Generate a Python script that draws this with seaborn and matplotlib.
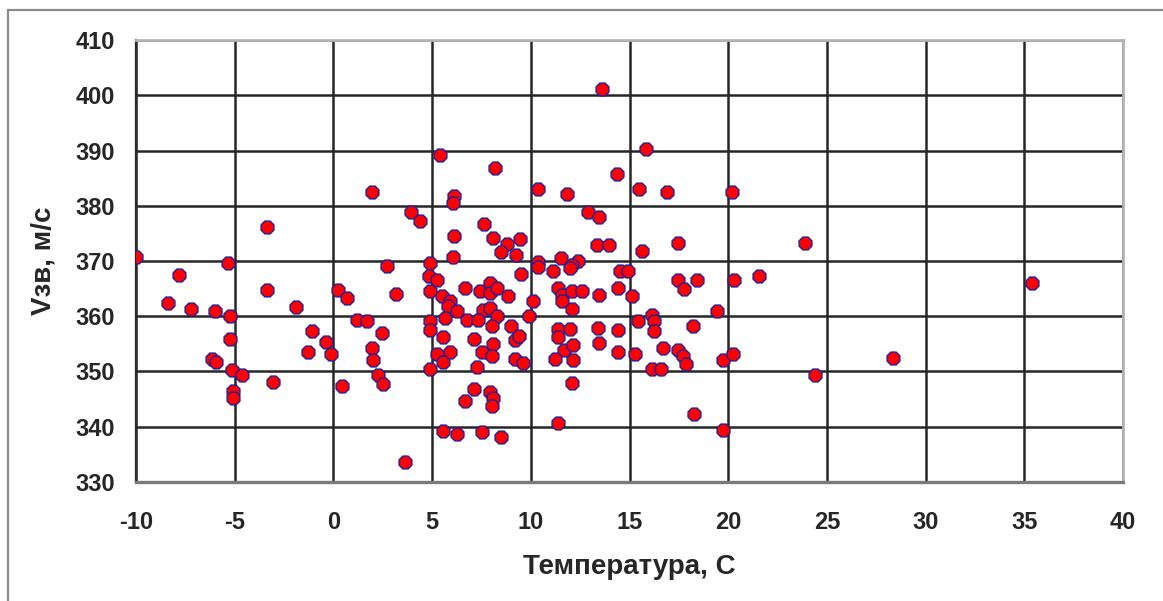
import matplotlib
matplotlib.use("Agg")
import matplotlib.pyplot as plt
import seaborn as sns
import pandas as pd
from matplotlib.lines import Line2D

# ---- data ----
temperature = [
    -10.0, -8.36, -7.82, -7.23, -6.17, -6.0, -5.96, -5.36, -5.24, -5.24,
    -5.15, -5.07, -5.07, -4.65, -3.38, -3.35, -3.07, -1.91, -1.1, -1.27,
    -0.39, -0.14, 0.23, 0.70, 0.44, 1.18, 1.68, 2.45, 1.94, 2.02,
    2.24, 2.5, 2.7, 3.17, 3.63, 1.97, 3.93, 4.39,
    5.4, 8.19, 6.13, 6.04, 10.38, 11.85, 13.6, 6.13, 7.64, 8.1,
    8.77, 9.45, 8.49, 9.24, 6.04, 4.89, 10.38, 10.38, 11.51, 12.41,
    12.1, 11.98, 11.12, 12.91, 13.45, 13.36, 13.98, 9.5, 15.86, 14.35,
    15.48, 16.88, 20.2, 15.62, 17.47, 14.52, 14.94, 17.47, 18.4, 20.28,
    21.54, 23.9, 35.37, 28.36, 24.4, 17.78, 11.37, 11.6, 11.6, 12.07,
    12.58, 12.07, 13.45, 14.43, 15.11, 19.45, 15.45, 16.16, 16.26, 16.26,
    18.2, 11.39, 11.99, 11.39, 13.42, 13.47, 14.43, 11.68, 12.15, 11.22,
    12.15, 14.43, 15.28, 16.71, 17.47, 17.73, 17.86, 16.16, 16.58, 19.72,
    20.23, 12.07, 18.29, 11.39, 19.72,
    4.86, 5.27, 4.89, 5.48, 5.9, 5.82, 6.24, 6.67, 7.43, 7.93,
    7.93, 8.27, 8.86, 7.59, 7.93, 8.27, 5.65, 6.75, 7.34, 8.01,
    9.02, 10.09, 9.91, 4.89, 4.89, 5.54, 7.14, 9.2, 9.4, 8.1,
    5.9, 5.23, 5.57, 7.51, 8.01, 9.2, 9.59, 4.89, 7.26, 7.14,
    6.67, 7.93, 8.1, 8.01, 5.54, 6.28, 7.54, 8.47,
]
speed = [
    370.8, 362.4, 367.4, 361.3, 352.3, 361.0, 351.7, 369.7, 360.0, 355.9,
    350.2, 346.4, 345.2, 349.4, 376.2, 364.8, 348.1, 361.7, 357.3, 353.5,
    355.3, 353.2, 364.8, 363.3, 347.4, 359.4, 359.1, 357.0, 354.2, 352.1,
    349.4, 347.7, 369.1, 364.0, 333.6, 382.4, 378.8, 377.3,
    389.1, 386.8, 381.8, 380.5, 383.1, 382.1, 401.1, 374.6, 376.7, 374.2,
    373.1, 374.0, 371.7, 371.1, 370.8, 369.6, 369.9, 369.0, 370.5, 370.0,
    369.3, 368.7, 368.2, 378.8, 378.0, 372.9, 372.9, 367.6, 390.2, 385.8,
    383.1, 382.4, 382.4, 371.9, 373.2, 368.2, 368.2, 366.6, 366.6, 366.6,
    367.2, 373.2, 366.0, 352.4, 349.4, 364.9, 365.1, 363.9, 362.7, 364.5,
    364.5, 361.3, 363.8, 365.1, 363.7, 361.0, 359.1, 360.3, 359.1, 357.3,
    358.2, 357.7, 357.7, 356.2, 357.9, 355.2, 357.6, 353.9, 354.8, 352.3,
    352.1, 353.5, 353.2, 354.2, 353.9, 352.8, 351.4, 350.5, 350.5, 352.1,
    353.2, 348.0, 342.3, 340.7, 339.5,
    367.3, 366.6, 364.5, 363.6, 362.7, 361.8, 360.9, 365.1, 364.5, 366.0,
    364.2, 365.1, 363.6, 361.2, 361.5, 360.0, 359.7, 359.4, 359.3, 358.2,
    358.3, 362.7, 360.0, 359.2, 357.6, 356.2, 355.9, 355.7, 356.4, 354.9,
    353.6, 353.2, 351.8, 353.6, 352.8, 352.3, 351.5, 350.5, 350.8, 346.8,
    344.7, 346.2, 345.2, 343.7, 339.3, 338.6, 339.0, 338.2,
]
x_ticks = [-10, -5, 0, 5, 10, 15, 20, 25, 30, 35, 40]
y_ticks = [330, 340, 350, 360, 370, 380, 390, 400, 410]
x_label = "Температура, С"
y_label = "Vзв, м/с"

df = pd.DataFrame({"t": temperature, "v": speed})

sns.set_style("white")
plt.rcParams["font.family"] = ["Liberation Sans", "DejaVu Sans"]
plt.rcParams["font.weight"] = "bold"

W, H = 1163, 601
fig = plt.figure(figsize=(W / 100, H / 100), dpi=100)
fig.patch.set_facecolor("white")
ax = fig.add_axes([136 / W, 1 - 482 / H, (1123 - 136) / W, (482 - 40) / H])

# outer chart border (only top and left visible)
fig.add_artist(Line2D([8 / W, 1.0], [1 - 10 / H, 1 - 10 / H], transform=fig.transFigure,
                      color="#8a8a8a", lw=1.6))
fig.add_artist(Line2D([8 / W, 8 / W], [1 - 10 / H, 0.0], transform=fig.transFigure,
                      color="#8a8a8a", lw=1.6))

ax.set_axisbelow(True)
ax.grid(True, color="#262626", lw=1.8)
sns.scatterplot(data=df, x="t", y="v", ax=ax, marker="8", s=100,
                color="#ff0000", edgecolor="#20209a", linewidth=1.0, zorder=3,
                legend=False)

ax.set_xlim(-10, 40)
ax.set_ylim(330, 410)
ax.set_xticks(x_ticks)
ax.set_yticks(y_ticks)
ax.set_xticklabels([str(v) for v in x_ticks])
ax.set_yticklabels([str(v) for v in y_ticks])

ax.tick_params(axis="x", direction="out", length=7, width=1.4, color="#2a2a2a",
               pad=14, labelsize=17)
ax.tick_params(axis="y", direction="out", length=6, width=1.4, color="#2a2a2a",
               pad=9, labelsize=17)
for lab in ax.get_xticklabels() + ax.get_yticklabels():
    lab.set_fontweight("bold")

for side in ["top", "right"]:
    ax.spines[side].set_color("#b5b5b5")
    ax.spines[side].set_linewidth(2.0)
ax.spines["left"].set_color("#2a2a2a")
ax.spines["left"].set_linewidth(1.6)
ax.spines["bottom"].set_color("#7a7a7a")
ax.spines["bottom"].set_linewidth(2.4)

ax.set_xlabel(x_label, fontsize=20, fontweight="bold", labelpad=14)
ax.set_ylabel(y_label, fontsize=20, fontweight="bold", labelpad=14)

fig.savefig("out.png", dpi=100, facecolor="white")
